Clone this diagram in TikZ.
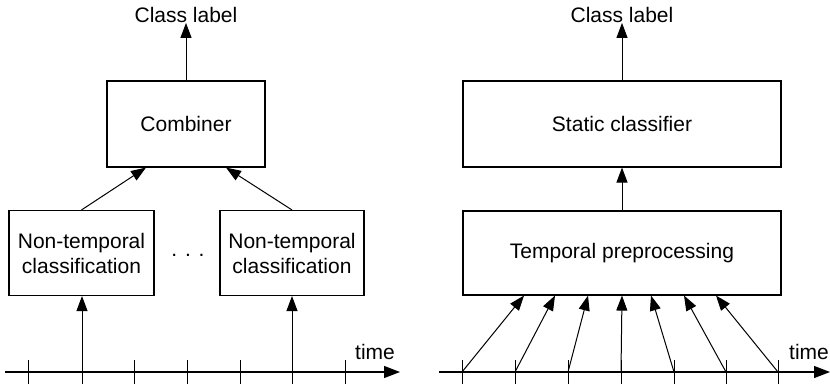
\documentclass[tikz,border=0pt]{standalone}
\usepackage{fontspec}
\setmainfont{Liberation Sans}
\usetikzlibrary{arrows.meta,calc}
\tikzset{
  block/.style={draw, line width=1.1pt, inner sep=0pt, align=center, font=\fontsize{21}{25}\selectfont},
  lbl/.style={inner sep=0pt, font=\fontsize{21}{25}\selectfont},
  flow/.style={line width=1pt, -{Triangle[length=15pt,width=11pt]}},
  axis/.style={line width=1.2pt, -{Triangle[length=16pt,width=12pt]}},
  tick/.style={line width=1pt}
}
\begin{document}
\begin{tikzpicture}[x=1pt,y=-1pt]
\useasboundingbox (0,0) rectangle (830,384);

% ---- left: per-frame classification with a combiner ----
\node[lbl] (clsL) at (186,15) {Class label};
\node[block, minimum width=158pt, minimum height=86pt] (comb) at (186,124) {Combiner};
\node[block, minimum width=145pt, minimum height=85pt] (ntcA) at (81.5,253) {Non-temporal\\classification};
\node[block, minimum width=144pt, minimum height=85pt] (ntcB) at (292,253) {Non-temporal\\classification};
\node[lbl] (dots) at (188,255) {. . .};
\node[lbl] (timeL) at (375,352) {time};

\coordinate (axL0) at (5,372);
\coordinate (axL1) at (400,372);
\draw[axis] (axL0) -- (axL1);
\foreach \i/\x in {1/28,2/82,3/134,4/187,5/240,6/292,7/345}{
  \coordinate (lt\i) at (\x,372);
  \draw[tick] ($(lt\i)+(0,-12)$) -- ($(lt\i)+(0,12)$);
}
\draw[flow] (lt2) -- (lt2 |- ntcA.south);
\draw[flow] (lt6) -- (lt6 |- ntcB.south);
\draw[flow] (ntcA.north) -- ($(comb.south)+(-40,0)$);
\draw[flow] (ntcB.north) -- ($(comb.south)+(40,0)$);
\draw[flow] (comb.north) -- (clsL.south);

% ---- right: temporal preprocessing feeding a static classifier ----
\node[lbl] (clsR) at (622,15) {Class label};
\node[block, minimum width=318pt, minimum height=86pt] (stat) at (622,124) {Static classifier};
\node[block, minimum width=318pt, minimum height=84pt] (prep) at (622,253) {Temporal preprocessing};
\node[lbl] (timeR) at (809,352) {time};

\coordinate (axR0) at (439,372);
\coordinate (axR1) at (830,372);
\draw[axis] (axR0) -- (axR1);
\foreach \i/\x/\d in {1/462/-98,2/515/-67,3/568/-34,4/621/0,5/674/29,6/726/62,7/778/94}{
  \coordinate (rt\i) at (\x,372);
  \draw[tick] ($(rt\i)+(0,-12)$) -- ($(rt\i)+(0,12)$);
  \draw[flow] (rt\i) -- ($(prep.south)+(\d,0)$);
}
\draw[flow] (prep.north) -- (stat.south);
\draw[flow] (stat.north) -- (clsR.south);
\end{tikzpicture}
\end{document}
